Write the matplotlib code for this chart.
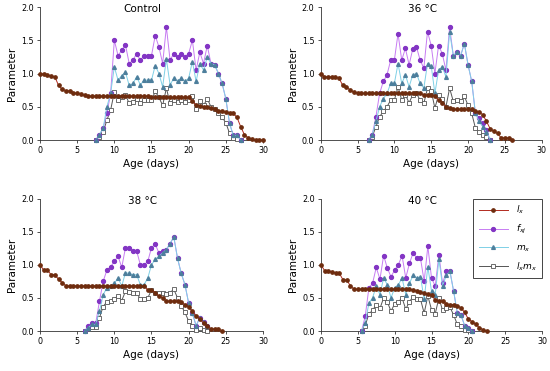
import numpy as np
import matplotlib
matplotlib.use('Agg')
import matplotlib.pyplot as plt

### data (0.5 day steps)
titles = ['Control', '36 \u00b0C', '38 \u00b0C', '40 \u00b0C']

# start day of each series per panel
lx_start = [0.0, 0.0, 0.0, 0.0]
rep_start = [7.5, 6.5, 6.0, 5.5]

lx_control = [1.00, 0.99, 0.98, 0.96, 0.95, 0.82, 0.76, 0.74, 0.74, 0.71, 0.70, 0.69, 0.67,
              0.66, 0.66, 0.66, 0.66, 0.66, 0.66, 0.66, 0.66, 0.66, 0.66, 0.66, 0.66, 0.66,
              0.66, 0.66, 0.66, 0.66,
              0.64, 0.64, 0.64, 0.64, 0.64, 0.64, 0.64, 0.64, 0.64, 0.64, 0.64,
              0.58, 0.53, 0.51, 0.50, 0.49, 0.48, 0.46, 0.44, 0.43, 0.42, 0.41, 0.40, 0.34,
              0.20, 0.08, 0.03, 0.02, 0.00, 0.00, 0.00]
fxj_control = [0.00, 0.08, 0.18, 0.40, 0.70,
               1.50, 1.27, 1.35, 1.43, 1.15, 1.20, 1.30, 1.20, 1.27, 1.27,
               1.27, 1.57, 1.40, 1.15, 1.70, 1.20, 1.30, 1.25, 1.30, 1.25,
               1.30, 1.50, 1.05, 1.32, 1.15, 1.42, 1.15, 1.13, 1.00, 0.85,
               0.62, 0.25, 0.07, 0.07, 0.00]
mx_control = [0.00, 0.08, 0.18, 0.50, 0.70,
              1.10, 0.90, 0.97, 1.02, 0.82, 0.85, 0.95, 0.83, 0.90, 0.90,
              0.90, 1.12, 1.00, 0.80, 1.22, 0.83, 0.93, 0.88, 0.93, 0.88,
              0.93, 1.18, 0.88, 1.15, 1.05, 1.25, 1.15, 1.13, 1.00, 0.85,
              0.62, 0.25, 0.07, 0.07, 0.00]
lxmx_control = [0.00, 0.05, 0.12, 0.30, 0.45,
                0.72, 0.60, 0.65, 0.68, 0.55, 0.57, 0.62, 0.56, 0.60, 0.60,
                0.60, 0.73, 0.64, 0.52, 0.78, 0.55, 0.60, 0.57, 0.60, 0.57,
                0.60, 0.66, 0.47, 0.58, 0.52, 0.62, 0.50, 0.46, 0.40, 0.34,
                0.26, 0.10, 0.03, 0.02, 0.00]

lx_36 = [1.00, 0.95, 0.95, 0.95, 0.95, 0.93, 0.82, 0.80, 0.75, 0.72, 0.71,
         0.70, 0.70, 0.70, 0.70, 0.70, 0.70, 0.70, 0.70, 0.70, 0.70, 0.70, 0.70,
         0.70, 0.70, 0.70, 0.70, 0.70,
         0.68, 0.68, 0.68, 0.66, 0.60, 0.56, 0.50, 0.48, 0.46,
         0.46, 0.46, 0.46, 0.46, 0.46,
         0.44, 0.42, 0.38, 0.28, 0.17, 0.13, 0.10, 0.03, 0.03, 0.03, 0.00]
fxj_36 = [0.00, 0.08, 0.35, 0.70, 0.88, 0.98, 1.20,
          1.20, 1.60, 1.20, 1.38, 1.13, 1.37, 1.40, 1.20, 1.08, 1.63,
          1.42, 1.00, 1.42, 1.30, 1.05, 1.70, 1.27, 1.32, 1.27, 1.45,
          1.13, 0.88, 0.40, 0.33, 0.25, 0.15, 0.00]
mx_36 = [0.00, 0.08, 0.28, 0.50, 0.62, 0.70, 0.85,
         0.85, 1.15, 0.85, 0.98, 0.80, 0.98, 1.00, 0.85, 0.78, 1.15,
         1.12, 0.70, 1.05, 1.10, 0.95, 1.62, 1.27, 1.32, 1.27, 1.45,
         1.13, 0.88, 0.40, 0.28, 0.20, 0.12, 0.00]
lxmx_36 = [0.00, 0.05, 0.20, 0.35, 0.43, 0.50, 0.60,
           0.60, 0.80, 0.60, 0.68, 0.56, 0.68, 0.70, 0.60, 0.55, 0.78,
           0.74, 0.48, 0.68, 0.62, 0.50, 0.78, 0.58, 0.60, 0.58, 0.66,
           0.52, 0.40, 0.18, 0.12, 0.08, 0.04, 0.00]

lx_38 = [1.00, 0.92, 0.92, 0.85, 0.85, 0.78, 0.73, 0.68,
         0.68, 0.68, 0.68, 0.68, 0.68, 0.68, 0.68, 0.68, 0.68, 0.68, 0.68,
         0.68, 0.68, 0.68, 0.68, 0.68, 0.68, 0.68, 0.68, 0.68, 0.68,
         0.62, 0.62, 0.58, 0.53, 0.50, 0.45, 0.45, 0.45, 0.45, 0.44, 0.40,
         0.36, 0.30, 0.23, 0.18, 0.12, 0.08, 0.03, 0.03, 0.03, 0.00]
fxj_38 = [0.00, 0.07, 0.12, 0.12, 0.45, 0.75, 0.92, 0.97,
          1.05, 1.13, 0.96, 1.26, 1.26, 1.21, 1.21, 1.00, 1.00, 1.05,
          1.26, 1.31, 1.18, 1.21, 1.23, 1.32, 1.42, 1.10, 0.87, 0.70,
          0.42, 0.27, 0.08, 0.20, 0.13, 0.07]
mx_38 = [0.00, 0.05, 0.10, 0.10, 0.30, 0.55, 0.65, 0.68,
         0.72, 0.80, 0.68, 0.88, 0.87, 0.85, 0.85, 0.70, 0.70, 0.80,
         1.00, 1.08, 1.13, 1.18, 1.23, 1.32, 1.42, 1.10, 0.87, 0.70,
         0.42, 0.27, 0.08, 0.20, 0.13, 0.07]
lxmx_38 = [0.00, 0.03, 0.06, 0.06, 0.20, 0.37, 0.44, 0.46,
           0.49, 0.53, 0.46, 0.60, 0.59, 0.58, 0.58, 0.48, 0.48, 0.50,
           0.62, 0.58, 0.57, 0.57, 0.56, 0.58, 0.63, 0.50, 0.38, 0.28,
           0.15, 0.08, 0.02, 0.04, 0.02, 0.00]

lx_40 = [1.00, 0.91, 0.91, 0.89, 0.88, 0.87, 0.77, 0.77, 0.68, 0.63,
         0.63, 0.63, 0.63, 0.63, 0.63, 0.63, 0.63, 0.63, 0.63, 0.63, 0.63,
         0.63, 0.63, 0.63, 0.63,
         0.62, 0.61, 0.59, 0.57, 0.56, 0.54, 0.47, 0.46, 0.45, 0.41, 0.40,
         0.40, 0.38, 0.35, 0.28, 0.18, 0.14, 0.10, 0.05, 0.02, 0.00]
fxj_40 = [0.00, 0.22, 0.65, 0.72, 0.96, 0.78, 1.14, 0.95, 0.82,
          0.92, 1.00, 1.14, 0.80, 1.02, 1.18, 1.10, 1.10, 0.75, 1.28,
          0.80, 0.68, 1.15, 0.72, 0.90, 0.90, 0.60, 0.27, 0.24, 0.08,
          0.04, 0.00]
mx_40 = [0.00, 0.12, 0.42, 0.50, 0.68, 0.55, 0.80, 0.70, 0.50,
         0.65, 0.70, 0.80, 0.55, 0.72, 0.84, 0.80, 0.82, 0.48, 0.97,
         0.60, 0.55, 1.08, 0.68, 0.84, 0.90, 0.60, 0.27, 0.24, 0.08,
         0.04, 0.00]
lxmx_40 = [0.00, 0.08, 0.26, 0.31, 0.40, 0.34, 0.50, 0.44, 0.30,
           0.41, 0.44, 0.50, 0.33, 0.44, 0.52, 0.48, 0.48, 0.27, 0.53,
           0.32, 0.26, 0.50, 0.31, 0.35, 0.36, 0.24, 0.10, 0.08, 0.02,
           0.01, 0.00]

lx_all = [lx_control, lx_36, lx_38, lx_40]
fxj_all = [fxj_control, fxj_36, fxj_38, fxj_40]
mx_all = [mx_control, mx_36, mx_38, mx_40]
lxmx_all = [lxmx_control, lxmx_36, lxmx_38, lxmx_40]

###styles
col_lx_line = '#b22a1e'
col_lx_mark = '#6e2c0e'
col_f_line = '#c77cf2'
col_f_mark = '#8335c4'
col_m_line = '#7fd0e6'
col_m_mark = '#4d7f9c'
col_lm = '#555555'

fig = plt.figure(figsize=(5.5, 3.71), dpi=100)

# left, bottom, width, height in figure fraction
positions = [[0.0727, 0.6226, 0.4055, 0.3585],
             [0.5830, 0.6226, 0.4020, 0.3585],
             [0.0727, 0.1078, 0.4055, 0.3570],
             [0.5836, 0.1078, 0.4020, 0.3570]]

def days(start, vals):
    return start + 0.5 * np.arange(len(vals))

for i in range(4):
    ax = fig.add_axes(positions[i])
    kw = dict(lw=0.7, clip_on=False)
    ax.plot(days(rep_start[i], lxmx_all[i]), lxmx_all[i], color=col_lm, marker='s', ms=2.8,
            mfc='white', mec=col_lm, mew=0.6, label='$l_x m_x$', zorder=3, **kw)
    ax.plot(days(rep_start[i], fxj_all[i]), fxj_all[i], color=col_f_line, marker='o', ms=2.8,
            mfc=col_f_mark, mec=col_f_mark, label='$f_{xj}$', zorder=4, **kw)
    ax.plot(days(rep_start[i], mx_all[i]), mx_all[i], color=col_m_line, marker='^', ms=2.7,
            mfc=col_m_mark, mec=col_m_mark, label='$m_x$', zorder=5, **kw)
    ax.plot(days(lx_start[i], lx_all[i]), lx_all[i], color=col_lx_line, marker='o', ms=2.4,
            mfc=col_lx_mark, mec=col_lx_mark, label='$l_x$', zorder=6, **kw)

    ax.set_xlim(0, 30)
    ax.set_ylim(0, 2.0)
    ax.set_xticks([0, 5, 10, 15, 20, 25, 30])
    ax.set_yticks([0.0, 0.5, 1.0, 1.5, 2.0])
    ax.set_yticklabels(['%.1f' % v for v in [0.0, 0.5, 1.0, 1.5, 2.0]])
    ax.spines['top'].set_visible(False)
    ax.spines['right'].set_visible(False)
    for s in ['left', 'bottom']:
        ax.spines[s].set_linewidth(0.6)
        ax.spines[s].set_color('#333333')
    ax.tick_params(labelsize=5.8, length=2.5, width=0.6, color='#333333', pad=2)
    ax.set_xlabel('Age (days)', fontsize=7.5, labelpad=3)
    ax.set_ylabel('Parameter', fontsize=7.5, labelpad=3)
    ax.text(0.46, 0.985, titles[i], transform=ax.transAxes, ha='center', va='center', fontsize=7.5)

    if i == 3:
        h, l = ax.get_legend_handles_labels()
        order = [3, 1, 2, 0]
        leg = ax.legend([h[k] for k in order], [l[k] for k in order], loc='upper right',
                        bbox_to_anchor=(1.0, 1.0), borderaxespad=0, fontsize=6.5,
                        handlelength=3.3, labelspacing=0.75, fancybox=False,
                        framealpha=1, edgecolor='#444444', borderpad=0.6)
        leg.get_frame().set_linewidth(0.7)

fig.savefig('out.png', dpi=100)
